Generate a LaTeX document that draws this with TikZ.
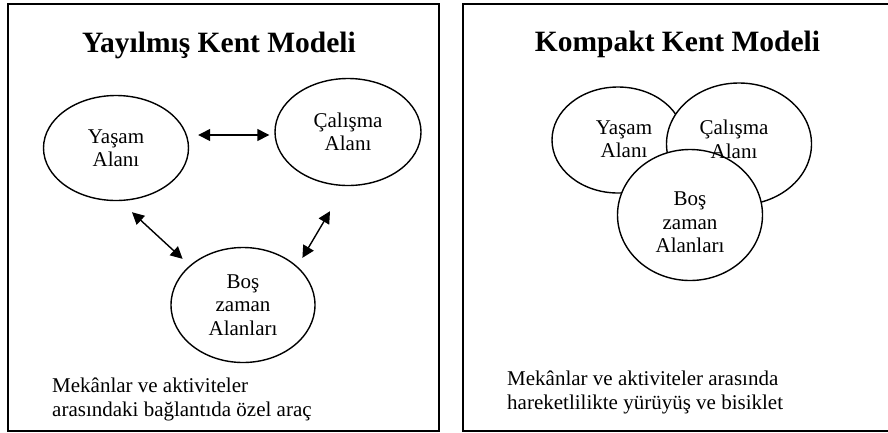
\documentclass[tikz,border=0pt]{standalone}
\usepackage{fontspec}
\setmainfont{Liberation Serif}
\usetikzlibrary{shapes.geometric,arrows.meta}

\begin{document}
\begin{tikzpicture}[x=1pt,y=-1pt,
        area/.style={draw,ellipse,line width=1.4pt,fill=white,inner sep=0pt,align=center,
                font=\fontsize{21}{23.5}\selectfont},
        tag/.style={align=center,inner sep=0pt,font=\fontsize{21}{23.5}\selectfont},
        link/.style={{Triangle[length=12pt,width=12pt]}-{Triangle[length=12pt,width=12pt]},line width=1.4pt},
        title/.style={font=\fontsize{29.5}{34}\selectfont\bfseries,anchor=base,inner sep=0pt},
        note/.style={font=\fontsize{21}{24}\selectfont,align=left,anchor=base west,inner sep=0pt}]
        \useasboundingbox (0,0) rectangle (888,432);
        \draw[line width=2.2pt] (8,4) rectangle (439,431);
        \draw[line width=2.2pt] (463,4) rectangle (892,431);

        % spread out city
        \node[title] (Spread) at (219,52) {Yayılmış Kent Modeli};
        \node[area,minimum width=145pt,minimum height=105pt] (Living) at (116,148) {Yaşam\\Alanı};
        \node[area,minimum width=146pt,minimum height=107pt] (Work) at (348,132) {Çalışma\\Alanı};
        \node[area,minimum width=144pt,minimum height=115pt] (Leisure) at (243,305) {Boş\\zaman\\Alanları};
        \draw[link] ([xshift=9pt,yshift=13pt]Living.east) to ([xshift=-5pt,yshift=-3pt]Work.west);
        \draw[link] ([xshift=16pt,yshift=-11pt]Living.south) to ([xshift=-9pt,yshift=5pt]Leisure.north west);
        \draw[link] ([xshift=-18pt,yshift=-25pt]Work.south) to ([xshift=8pt,yshift=6pt]Leisure.north east);
        \node[note] (SpreadNote) at (52,416) {Mekânlar ve aktiviteler\\arasındaki bağlantıda özel araç};

        % compact city
        \node[title] (Compact) at (677.5,51) {Kompakt Kent Modeli};
        \node[area,minimum width=132pt,minimum height=106pt] (CLiving) at (618,140) {};
        \node[area,minimum width=145pt,minimum height=122pt] (CWork) at (739,144) {};
        \node[area,minimum width=145pt,minimum height=131pt] (CLeisure) at (690,215) {};
        \node[tag] (CLivingText) at ([xshift=6pt,yshift=1pt]CLiving) {Yaşam\\Alanı};
        \node[tag] (CWorkText) at ([xshift=-5pt,yshift=4.5pt]CWork) {Çalışma\\Alanı};
        \node[tag] (CLeisureText) at ([yshift=-7.5pt]CLeisure) {Boş\\zaman\\Alanları};
        \node[note] (CompactNote) at (507,409) {Mekânlar ve aktiviteler arasında\\hareketlilikte yürüyüş ve bisiklet};
\end{tikzpicture}
\end{document}
